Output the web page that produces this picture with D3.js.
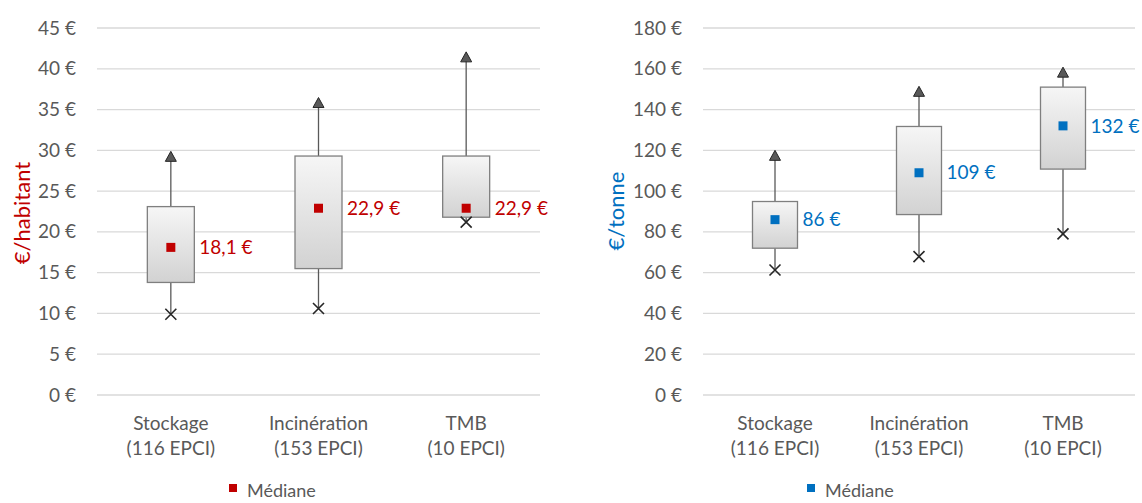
<!DOCTYPE html>
<html>
<head>
<meta charset="utf-8">
<script src="https://cdn.jsdelivr.net/npm/d3@7"></script>
<style>
  html, body { margin: 0; padding: 0; background: #fff; }
  svg { display: block; font-family: Lato, "Open Sans", sans-serif; }
</style>
</head>
<body>
<svg id="chart" width="1142" height="503"></svg>
<script>
// ---- data ----
const categories = ["Stockage", "Incinération", "TMB"];
const counts = ["(116 EPCI)", "(153 EPCI)", "(10 EPCI)"];

// €/habitant
const habMin = [9.9, 10.6, 21.2];
const habQ1 = [13.8, 15.5, 21.8];
const habMedian = [18.1, 22.9, 22.9];
const habQ3 = [23.1, 29.3, 29.3];
const habMax = [29.2, 35.8, 41.4];
const habTicks = [0, 5, 10, 15, 20, 25, 30, 35, 40, 45];
const habMedianLabels = ["18,1 €", "22,9 €", "22,9 €"];

// €/tonne
const tonMin = [61.3, 67.9, 79];
const tonQ1 = [72, 88.5, 110.8];
const tonMedian = [86, 109, 132];
const tonQ3 = [94.9, 131.7, 151];
const tonMax = [117.3, 148.7, 158.1];
const tonTicks = [0, 20, 40, 60, 80, 100, 120, 140, 160, 180];
const tonMedianLabels = ["86 €", "109 €", "132 €"];

const svg = d3.select("#chart");
const defs = svg.append("defs");
const grad = defs.append("linearGradient").attr("id", "boxGrad")
  .attr("x1", 0).attr("y1", 0).attr("x2", 0).attr("y2", 1);
grad.append("stop").attr("offset", "0%").attr("stop-color", "#f6f6f6");
grad.append("stop").attr("offset", "100%").attr("stop-color", "#d2d2d2");

function drawPanel(opt) {
  const g = svg.append("g");
  const x = d3.scaleBand().domain(categories).range([opt.x0, opt.x1]).padding(0);
  const y = d3.scaleLinear().domain([0, opt.max]).range([395, 28]);

  // gridlines
  g.append("g").selectAll("line").data(opt.ticks).join("line")
    .attr("x1", opt.x0).attr("x2", opt.x1)
    .attr("y1", d => y(d)).attr("y2", d => y(d))
    .attr("stroke", "#d9d9d9").attr("stroke-width", 1.3);

  // y axis labels
  const yAxis = d3.axisLeft(y).tickValues(opt.ticks).tickSize(0).tickPadding(0)
    .tickFormat(d => d + " €");
  const ya = g.append("g").attr("transform", `translate(${opt.labelX},0)`).call(yAxis);
  ya.select(".domain").remove();
  ya.selectAll("text").attr("font-size", 19).attr("fill", "#595959")
    .attr("font-family", "Lato, 'Open Sans', sans-serif");

  // axis title
  g.append("text")
    .attr("transform", `translate(${opt.titleX},${opt.titleY}) rotate(-90)`)
    .attr("text-anchor", "middle").attr("dy", "0.35em")
    .attr("font-size", 22).attr("fill", opt.color).text(opt.title);

  // category labels
  const xl = g.append("g").selectAll("text").data(categories).join("text")
    .attr("x", d => x(d) + x.bandwidth() / 2)
    .attr("text-anchor", "middle").attr("font-size", 19).attr("fill", "#595959");
  xl.append("tspan").attr("x", d => x(d) + x.bandwidth() / 2).attr("y", 429.5).text(d => d);
  xl.append("tspan").attr("x", d => x(d) + x.bandwidth() / 2).attr("y", 454.5).text((d, i) => counts[i]);

  const bw = opt.boxW;
  categories.forEach((c, i) => {
    const cx = x(c) + x.bandwidth() / 2;
    // whiskers
    g.append("line").attr("x1", cx).attr("x2", cx)
      .attr("y1", y(opt.q3[i])).attr("y2", y(opt.mx[i]))
      .attr("stroke", "#595959").attr("stroke-width", 1.3);
    g.append("line").attr("x1", cx).attr("x2", cx)
      .attr("y1", y(opt.q1[i])).attr("y2", y(opt.mn[i]))
      .attr("stroke", "#595959").attr("stroke-width", 1.3);
    // box
    g.append("rect").attr("x", cx - bw / 2).attr("width", bw)
      .attr("y", y(opt.q3[i])).attr("height", y(opt.q1[i]) - y(opt.q3[i]))
      .attr("fill", "url(#boxGrad)").attr("stroke", "#7f7f7f").attr("stroke-width", 1.3);
    // max triangle
    const ty = y(opt.mx[i]);
    g.append("path")
      .attr("d", `M${cx - 5.5},${ty + 4.5} L${cx + 5.5},${ty + 4.5} L${cx},${ty - 5.5} Z`)
      .attr("fill", "#595959").attr("stroke", "#262626").attr("stroke-width", 1);
    // min cross
    const my = y(opt.mn[i]);
    g.append("path")
      .attr("d", `M${cx - 5.5},${my - 5.5} L${cx + 5.5},${my + 5.5} M${cx - 5.5},${my + 5.5} L${cx + 5.5},${my - 5.5}`)
      .attr("stroke", "#262626").attr("stroke-width", 1.6).attr("fill", "none");
    // median square
    const mdy = y(opt.med[i]);
    g.append("rect").attr("x", cx - 4.5).attr("y", mdy - 4.5).attr("width", 9).attr("height", 9)
      .attr("fill", opt.color);
    // median label
    g.append("text").attr("x", cx + bw / 2 + 5).attr("y", mdy).attr("dy", "0.35em")
      .attr("font-size", 19).attr("fill", opt.color).text(opt.medLabels[i]);
  });

  // legend
  g.append("rect").attr("x", opt.legX - 4).attr("y", 484).attr("width", 8).attr("height", 8)
    .attr("fill", opt.color);
  g.append("text").attr("x", opt.legX + 14).attr("y", 497)
    .attr("font-size", 18).attr("fill", "#595959").text("Médiane");
}

drawPanel({
  x0: 97, x1: 540, max: 45, ticks: habTicks, labelX: 76,
  title: "€/habitant", titleX: 22, titleY: 213, color: "#C00000",
  mn: habMin, q1: habQ1, med: habMedian, q3: habQ3, mx: habMax,
  medLabels: habMedianLabels, boxW: 47, legX: 233
});
drawPanel({
  x0: 703, x1: 1135, max: 180, ticks: tonTicks, labelX: 682,
  title: "€/tonne", titleX: 616, titleY: 211, color: "#0070C0",
  mn: tonMin, q1: tonQ1, med: tonMedian, q3: tonQ3, mx: tonMax,
  medLabels: tonMedianLabels, boxW: 45, legX: 811
});
</script>
</body>
</html>
